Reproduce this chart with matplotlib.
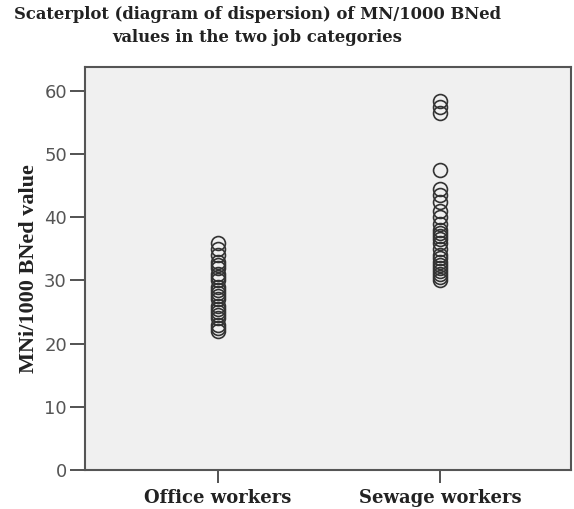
import numpy as np
import matplotlib.pyplot as plt

# values
categories = ['Office workers', 'Sewage workers']
office = [22, 22.5, 23, 24, 24.5, 25, 25.5, 26, 27, 27.5, 28, 28.5, 29, 30,
          30.5, 31, 32, 32.5, 33, 34, 35, 36]
sewage = [58.5, 57.5, 56.5, 47.5, 44.5, 43.5, 42.5, 41, 40, 39, 38, 37.5, 37,
          36.5, 36, 35, 34, 33.5, 33, 32.5, 32, 31.5, 31, 30.5, 30]
yticks = [0, 10, 20, 30, 40, 50, 60]

fig = plt.figure(figsize=(5.74, 5.09), dpi=100)
ax = fig.add_axes([0.148, 0.077, 0.847, 0.791])
ax.set_facecolor('#f0f0f0')

for i, vals in enumerate([office, sewage]):
    ax.plot(np.full(len(vals), i + 1), vals, 'o', mfc='none', mec='#333333',
            mew=1.2, ms=10, linestyle='none')

ax.set_xlim(0.40, 2.59)
ax.set_ylim(0, 63.8)
ax.set_xticks([1, 2])
ax.set_xticklabels(categories, family='DejaVu Serif', fontweight='bold',
                   fontsize=13, color='#222222')
ax.set_yticks(yticks)
ax.tick_params(axis='y', labelsize=13, labelcolor='#555555', length=11,
               width=1.3, color='#444444', pad=2)
ax.tick_params(axis='x', length=9, width=1.3, color='#444444', pad=5)
for s in ax.spines.values():
    s.set_color('#555555')
    s.set_linewidth(1.5)

ax.set_ylabel('MNi/1000 BNed value', family='Liberation Serif',
              fontweight='bold', fontsize=16, color='#222222', labelpad=4)
fig.text(0.448, 0.988, 'Scaterplot (diagram of dispersion) of MN/1000 BNed\n'
         'values in the two job categories', ha='center', va='top',
         family='DejaVu Serif', fontweight='bold', fontsize=11.8,
         color='#222222', linespacing=1.45)

fig.savefig('out.png', dpi=100)
